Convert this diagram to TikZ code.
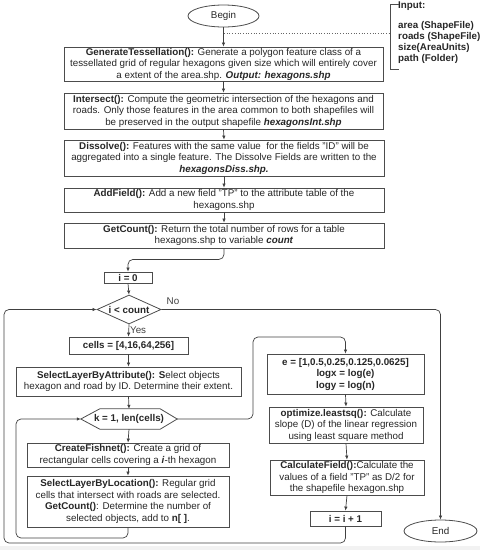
\documentclass[tikz,border=0pt]{standalone}
\usepackage{fontspec}
\setmainfont{Liberation Sans}
\usetikzlibrary{arrows.meta,shapes.geometric,calc}
\begin{document}
\begin{tikzpicture}[x=1pt,y=-1pt,
  font=\fontsize{9.8}{11.5}\selectfont,
  every node/.style={text=black!85},
  box/.style={draw=black!70, line width=0.8pt, align=center, inner sep=0pt},
  oval/.style={draw=black!70, line width=0.8pt, ellipse, inner sep=0pt},
  arr/.style={draw=black!75, line width=0.7pt, -{Latex[length=4pt,width=3.5pt]}},
  ln/.style={draw=black!75, line width=0.7pt},
  lbl/.style={inner sep=0pt, text=black!75},
]
\useasboundingbox (0,0) rectangle (480,550);
\fill[black!5] (0,546) rectangle (480,550);

% nodes
\node[oval, minimum width=71pt, minimum height=22pt] (begin) at (223.5,16) {Begin};

\node[box, minimum width=319pt, minimum height=34pt] (gen) at (223.5,64)
 {\textbf{GenerateTessellation():} Generate a polygon feature class of a\\
  tessellated grid of regular hexagons given size which will entirely cover\\
  a extent of the area.shp. \textbf{\textit{Output: hexagons.shp}}};

\node[box, minimum width=319pt, minimum height=36pt] (inter) at (223.5,111)
 {\textbf{Intersect():} Compute the geometric intersection of the hexagons and\\
  roads. Only those features in the area common to both shapefiles will\\
  be preserved in the output shapefile \textbf{\textit{hexagonsInt.shp}}};

\node[box, minimum width=320pt, minimum height=36pt] (diss) at (224,158)
 {\textbf{Dissolve():} Features with the same value \ for the fields "ID" will be\\
  aggregated into a single feature. The Dissolve Fields are written to the\\
  \textbf{\textit{hexagonsDiss.shp.}}};

\node[box, minimum width=320pt, minimum height=24pt] (addf) at (224,200)
 {\textbf{AddField():} Add a new field "TP" to the attribute table of the\\
  hexagons.shp};

\node[box, minimum width=320pt, minimum height=25pt] (getc) at (224,235.5)
 {\textbf{GetCount():} Return the total number of rows for a table\\
  hexagons.shp to variable \textbf{\textit{count}}};

\node[box, minimum width=48pt, minimum height=11pt] (izero) at (128,277.5) {\textbf{i = 0}};

\node[box, diamond, aspect=2.2, minimum width=64pt, minimum height=29pt] (dec) at (129,309.5)
 {\textbf{i < count}};

\node[box, minimum width=119pt, minimum height=17pt] (cells) at (128.5,345.5)
 {\textbf{cells = [4,16,64,256]}};

\node[box, minimum width=225pt, minimum height=29pt] (sla) at (128.5,381.5)
 {\textbf{SelectLayerByAttribute(): S}elect objects\\
  hexagon and road by ID. Determine their extent.};

\node[inner sep=0pt, minimum width=96pt, minimum height=20pt] (kk) at (129,419)
 {\textbf{k = 1, len(cells)}};
\draw[draw=black!70, line width=0.8pt] (kk.west) -- ([xshift=19pt]kk.north west)
  -- ([xshift=-17pt]kk.north east) -- (kk.east) -- ([xshift=-17pt]kk.south east)
  -- ([xshift=19pt]kk.south west) -- cycle;

\node[box, minimum width=202pt, minimum height=24pt] (fish) at (128,455)
 {\textbf{CreateFishnet():} Create a grid of\\
  rectangular cells covering a \textbf{\textit{i}}-th hexagon};

\node[box, minimum width=202pt, minimum height=51pt] (slbl) at (128,501.5)
 {\textbf{SelectLayerByLocation():} Regular grid\\
  cells that intersect with roads are selected.\\
  \textbf{GetCount()}: Determine the number of\\
  selected objects, add to \textbf{n[ ]}.};

\node[box, minimum width=157pt, minimum height=40pt] (ee) at (345.5,374)
 {\textbf{e = [1,0.5,0.25,0.125,0.0625]}\\
  \textbf{logx = log(e)}\\
  \textbf{logy = log(n)}};

\node[box, minimum width=154pt, minimum height=36pt] (opt) at (346,425)
 {\textbf{optimize.leastsq():} Calculate\\
  slope (D) of the linear regression\\
  using least square method};

\node[box, minimum width=154pt, minimum height=35pt] (calc) at (347,477.5)
 {\textbf{CalculateField():}Calculate the\\
  values of a field "TP" as D/2 for\\
  the shapefile hexagon.shp};

\node[box, minimum width=71pt, minimum height=15pt] (iinc) at (345.5,518.5) {\textbf{i = i + 1}};

\node[oval, minimum width=73pt, minimum height=22pt] (endn) at (440.5,531) {End};

% input bracket
\node[inner sep=0pt, anchor=north west, align=left, font=\fontsize{9.8}{11}\selectfont] (inp) at (398,2)
 {\textbf{Input:}\\[9pt]
  \textbf{area (ShapeFile)}\\
  \textbf{roads (ShapeFile)}\\
  \textbf{size(AreaUnits)}\\
  \textbf{path (Folder)}};
\coordinate (brT) at (399,4);
\coordinate (brB) at (399,69);
\draw[ln, draw=black!70] (brT) -- (390,4) -- (390,69) -- (brB);
\coordinate (dj) at (224,33);
\coordinate (dk) at (390,33);
\draw[ln, dotted, draw=black!60] (dj) -- (dk);

% connectors
\draw[arr] (begin.south) -- (gen.north);
\draw[arr] (gen.south) -- (inter.north);
\draw[arr] (inter.south) -- (diss.north);
\draw[arr] (diss.south) -- (addf.north);
\draw[arr] (addf.south) -- (getc.north);
\draw[arr, rounded corners=5pt] (getc.south) -- ++(0,11) -| (izero.north);
\draw[arr] (izero.south) -- (dec.north);
\draw[arr] (dec.south) -- (cells.north) node[lbl, pos=0.45, anchor=west, xshift=1pt] {Yes};
\draw[arr, rounded corners=5pt] (dec.east) -| (endn.north);
\node[lbl] (nolbl) at (173,301) {No};
\draw[arr] (cells.south) -- (sla.north);
\draw[arr] (sla.south) -- (kk.north);
\draw[arr, rounded corners=5pt] (kk.east) -- (253,419) -- (253,337) -| (ee.north);
\draw[arr] (kk.south) -- (fish.north);
\draw[arr] (fish.south) -- (slbl.north);
\draw[arr, rounded corners=5pt] (slbl.south) -- (128,538) -- (16,538) |- (kk.west);
\draw[arr] (ee.south) -- (opt.north);
\draw[arr] (opt.south) -- (calc.north);
\draw[arr] (calc.south) -- (iinc.north);
\draw[arr, rounded corners=5pt] (iinc.south) -- (345.5,543) -- (4,543) |- (dec.west);
\end{tikzpicture}
\end{document}
